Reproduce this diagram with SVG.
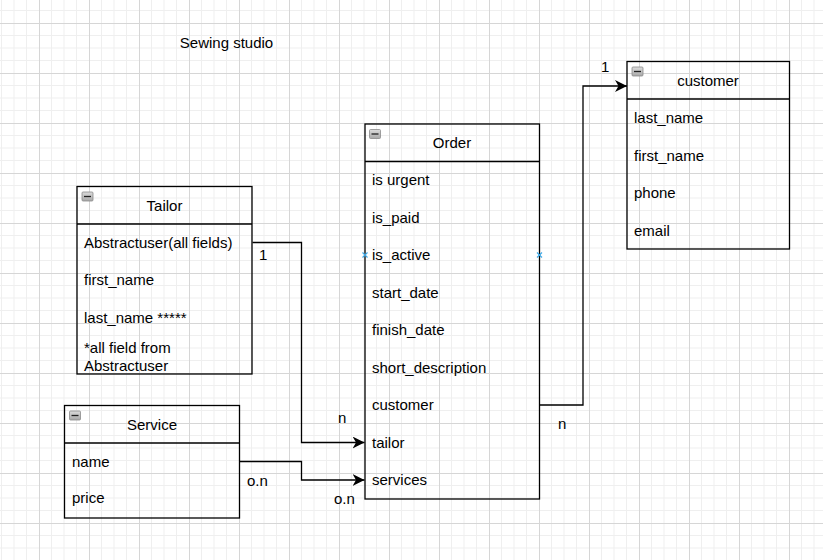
<svg xmlns="http://www.w3.org/2000/svg" width="823" height="560" viewBox="0 0 823 560">
<defs>
<pattern id="grid" x="39" y="23" width="50" height="50" patternUnits="userSpaceOnUse">
<path d="M12.5,0V50M25,0V50M37.5,0V50M0,12.5H50M0,25H50M0,37.5H50" stroke="#efefef" stroke-width="1" fill="none"/>
<path d="M0.5,0V50M0,0.5H50" stroke="#d6d6d6" stroke-width="1" fill="none"/>
</pattern>
<marker id="arrow" markerUnits="userSpaceOnUse" markerWidth="14" markerHeight="13" refX="12" refY="6" orient="auto">
<path d="M0,0 L12,6 L0,12 L3.5,6 Z" fill="#000"/>
</marker>
<linearGradient id="icon" x1="0" y1="0" x2="0" y2="1">
<stop offset="0" stop-color="#dcdcdc"/>
<stop offset="1" stop-color="#a8a8a8"/>
</linearGradient>
</defs>
<style>
text{font-family:"Liberation Sans",Arial,sans-serif;font-size:15px;fill:#000}
.box{fill:none;stroke:#000;stroke-width:1.3}
.head{text-anchor:middle}
.icon rect{fill:url(#icon);stroke:#8a8a8a;stroke-width:0.8}
.icon path{stroke:#222;stroke-width:1.3}
.edge{fill:none;stroke:#000;stroke-width:1.3}
.hint{stroke:#3fa9e6;stroke-width:1.2;fill:none}
</style>
<rect width="823" height="560" fill="#fff"/>
<rect width="823" height="560" fill="url(#grid)"/>

<text x="226.5" y="48" class="head">Sewing studio</text>

<g id="connectors">
<path class="edge" d="M252.5,242.5H301.5V442.5H364.5" marker-end="url(#arrow)"/>
<path class="edge" d="M240,461.5H301.5V480H364.5" marker-end="url(#arrow)"/>
<path class="edge" d="M539.5,405H583V86H627" marker-end="url(#arrow)"/>
<text x="259" y="260">1</text>
<text x="338" y="423">n</text>
<text x="247" y="486">o.n</text>
<text x="334" y="504">o.n</text>
<text x="558" y="429">n</text>
<text x="601" y="72">1</text>
</g>

<g id="order">
<rect class="box" x="365" y="124" width="174.5" height="375"/>
<path class="box" d="M365,161.5H539.5"/>
<g class="icon"><rect x="369.5" y="129.5" width="11" height="9" rx="1"/><path d="M371.5,134H378.5"/></g>
<text x="452" y="148" class="head">Order</text>
<text x="372" y="185">is urgent</text>
<text x="372" y="222.5">is_paid</text>
<text x="372" y="260">is_active</text>
<text x="372" y="297.5">start_date</text>
<text x="372" y="335">finish_date</text>
<text x="372" y="372.5">short_description</text>
<text x="372" y="410">customer</text>
<text x="372" y="447.5">tailor</text>
<text x="372" y="485">services</text>
<path class="hint" d="M362.5,252.5L367.5,257.5M367.5,252.5L362.5,257.5M537,252.5L542,257.5M542,252.5L537,257.5"/>
</g>

<g id="tailor">
<rect class="box" x="77" y="186.5" width="175" height="187.5"/>
<path class="box" d="M77,224H252"/>
<g class="icon"><rect x="82" y="192" width="11" height="9" rx="1"/><path d="M84,196.5H91"/></g>
<text x="164.5" y="210.5" class="head">Tailor</text>
<text x="84" y="247.5">Abstractuser(all fields)</text>
<text x="84" y="285">first_name</text>
<text x="84" y="322.5">last_name *****</text>
<text x="84" y="352.5">*all field from</text>
<text x="84" y="370.5">Abstractuser</text>
</g>

<g id="service">
<rect class="box" x="64.5" y="405.5" width="175" height="112.5"/>
<path class="box" d="M64.5,443H239.5"/>
<g class="icon"><rect x="69.5" y="411" width="11" height="9" rx="1"/><path d="M71.5,415.5H78.5"/></g>
<text x="152" y="429.5" class="head">Service</text>
<text x="72" y="467">name</text>
<text x="72" y="502.5">price</text>
</g>

<g id="customer">
<rect class="box" x="627" y="61.5" width="162.5" height="187.5"/>
<path class="box" d="M627,99H789.5"/>
<g class="icon"><rect x="632" y="67" width="11" height="9" rx="1"/><path d="M634,71.5H641"/></g>
<text x="708" y="85.5" class="head">customer</text>
<text x="634" y="123">last_name</text>
<text x="634" y="160.5">first_name</text>
<text x="634" y="198">phone</text>
<text x="634" y="235.5">email</text>
</g>
</svg>
